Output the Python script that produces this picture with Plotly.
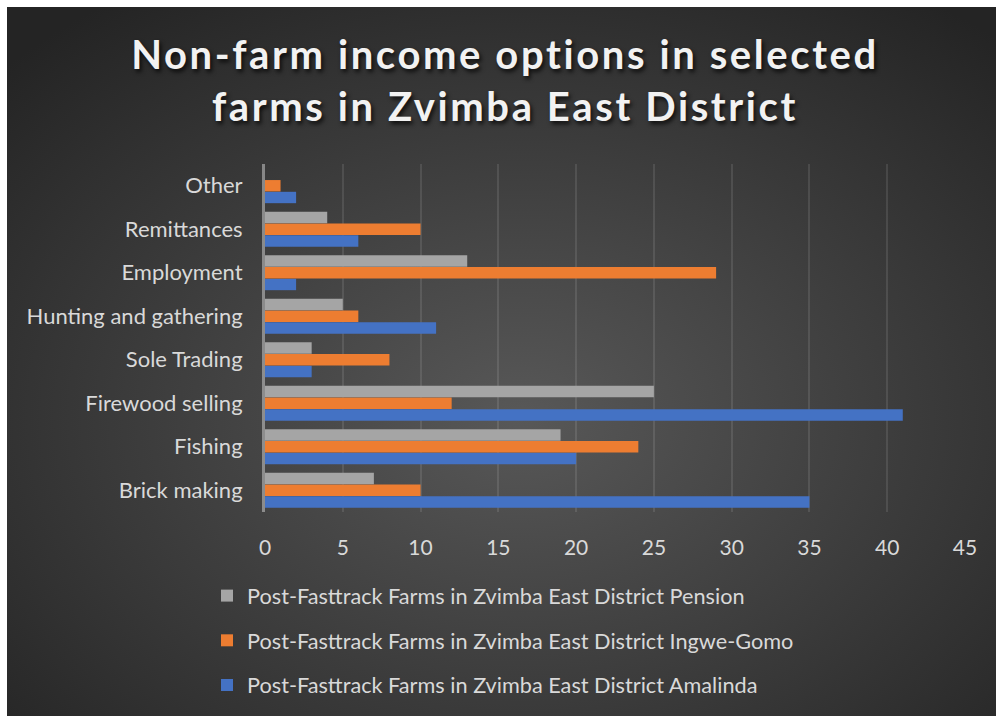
import base64
import plotly.graph_objects as go

# Income options (bottom to top on the category axis)
categories = ["Brick making", "Fishing", "Firewood selling", "Sole Trading",
              "Hunting and gathering", "Employment", "Remittances", "Other"]

amalinda = [35, 20, 41, 3, 11, 2, 6, 2]
ingwe_gomo = [10, 24, 12, 8, 6, 29, 10, 1]
pension = [7, 19, 25, 3, 5, 13, 4, 0]

series_names = [
    "Post-Fasttrack Farms in Zvimba East District Amalinda",
    "Post-Fasttrack Farms in Zvimba East District Ingwe-Gomo",
    "Post-Fasttrack Farms in Zvimba East District Pension",
]
series_values = [amalinda, ingwe_gomo, pension]
series_colors = ["#4472C4", "#ED7D31", "#A5A5A5"]
legend_ranks = [3, 2, 1]

x_ticks = [0, 5, 10, 15, 20, 25, 30, 35, 40, 45]

title_lines = ["Non-farm income options in selected", "farms in Zvimba East District"]

FONT = "Lato"
TEXT_COLOR = "#D9D9D9"

W, H = 996, 716
M_L, M_R, M_T, M_B = 265, 31, 164, 204
PW, PH = W - M_L - M_R, H - M_T - M_B

# Dark radial-gradient chart background, drawn as an SVG image behind the plot
bg_svg = (
    '<svg xmlns="http://www.w3.org/2000/svg" width="989" height="709">'
    '<defs><radialGradient id="g" cx="52%" cy="58%" r="72%">'
    '<stop offset="0%" stop-color="#585858"/>'
    '<stop offset="100%" stop-color="#242424"/>'
    '</radialGradient></defs>'
    '<rect width="989" height="709" fill="url(#g)"/></svg>'
)
bg_src = "data:image/svg+xml;base64," + base64.b64encode(bg_svg.encode()).decode()

fig = go.Figure()
for name, vals, col, rank in zip(series_names, series_values, series_colors, legend_ranks):
    fig.add_trace(go.Bar(
        y=categories, x=vals, name=name, orientation="h",
        marker=dict(color=col, line=dict(width=0)),
        legendgroup=name, legendrank=rank,
    ))

bg_left, bg_top = 7, 7
fig.add_layout_image(dict(
    source=bg_src, xref="paper", yref="paper",
    x=(bg_left - M_L) / PW, y=(H - M_B - bg_top) / PH,
    sizex=(W - bg_left) / PW, sizey=(H - bg_top) / PH,
    xanchor="left", yanchor="top", sizing="stretch", layer="below",
))

title_text = "<br>".join(
    f'<span style="letter-spacing:2.6px">{line}</span>' for line in title_lines
)

fig.update_layout(
    width=W, height=H,
    margin=dict(l=M_L, r=M_R, t=M_T, b=M_B, pad=0, autoexpand=False),
    paper_bgcolor="white",
    plot_bgcolor="rgba(0,0,0,0)",
    barmode="group", bargap=0.19, bargroupgap=0.03,
    font=dict(family=FONT, color=TEXT_COLOR, size=20),
    title=dict(
        text=title_text, x=0.507, xanchor="center",
        y=1 - 69 / H, yanchor="middle", yref="container",
        font=dict(family=FONT, size=40, color="#F2F2F2", weight="bold",
                  shadow="2px 3px 4px rgba(0,0,0,0.75)"),
    ),
    legend=dict(
        orientation="v", traceorder="grouped", tracegroupgap=13.5,
        x=(207 - M_L) / PW, xanchor="left",
        y=(H - M_B - 575) / PH, yanchor="top",
        bgcolor="rgba(0,0,0,0)", font=dict(size=21.7, color=TEXT_COLOR, family=FONT),
    ),
    showlegend=True,
)

fig.update_xaxes(
    range=[0, 45], tickvals=x_ticks, ticktext=[str(t) for t in x_ticks],
    showgrid=True, gridcolor="rgba(255,255,255,0.10)", gridwidth=2,
    zeroline=False, showline=False,
    ticks="outside", ticklen=17, tickcolor="rgba(0,0,0,0)",
    tickfont=dict(size=21, color=TEXT_COLOR, family=FONT),
)
fig.update_yaxes(
    range=[-0.5, 7.5], showgrid=False, zeroline=False,
    showline=True, linecolor="rgba(200,200,200,0.55)", linewidth=3,
    ticks="outside", ticklen=15, tickcolor="rgba(0,0,0,0)",
    tickfont=dict(size=22, color=TEXT_COLOR, family=FONT),
)

fig.write_html("out.html")
